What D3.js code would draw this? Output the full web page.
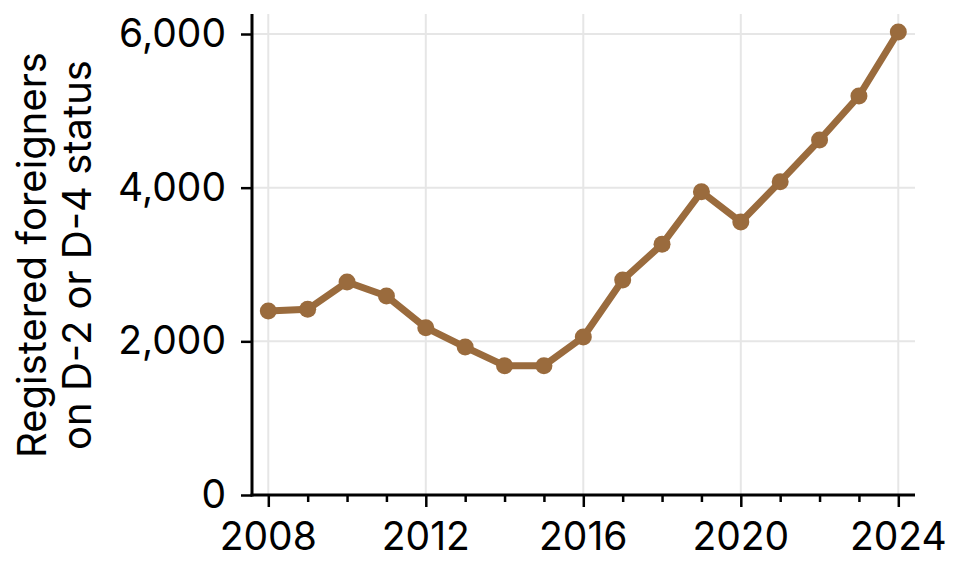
<!DOCTYPE html>
<html>
<head>
<meta charset="utf-8">
<script src="https://cdn.jsdelivr.net/npm/d3@7"></script>
<style>
  body { margin: 0; background: #fff; }
  svg { display: block; font-family: Inter, "Noto Sans", sans-serif; }
</style>
</head>
<body>
<svg id="chart" width="962" height="576"></svg>
<script>
// Registered foreigners on D-2 / D-4 status
const years = [2008, 2009, 2010, 2011, 2012, 2013, 2014, 2015, 2016,
               2017, 2018, 2019, 2020, 2021, 2022, 2023, 2024];
const counts = [2395, 2417, 2772, 2590, 2178, 1926, 1683, 1683, 2056,
                2798, 3263, 3947, 3553, 4078, 4620, 5193, 6026];
const xMajorTicks = [2008, 2012, 2016, 2020, 2024];
const yTicks = [0, 2000, 4000, 6000];
const yLabelLines = ["Registered foreigners", "on D-2 or D-4 status"];

const lineColor = "#9a6b3d";
const svg = d3.select("#chart");

// scales
const x = d3.scaleLinear().domain([2008, 2024]).range([268.3, 898.3]);
const y = d3.scaleLinear().domain([0, 6000]).range([495, 34]);
const axisLeft = 252, axisRight = 915, axisTop = 14, axisBottom = 495;

// gridlines
const grid = svg.append("g")
    .attr("stroke", "#e6e6e6")
    .attr("stroke-width", 2);

grid.selectAll("line.v")
    .data(xMajorTicks)
    .join("line")
    .attr("class", "v")
    .attr("x1", d => x(d)).attr("x2", d => x(d))
    .attr("y1", axisTop).attr("y2", axisBottom);

grid.selectAll("line.h")
    .data(yTicks.filter(d => d > 0))
    .join("line")
    .attr("class", "h")
    .attr("x1", axisLeft).attr("x2", axisRight)
    .attr("y1", d => y(d)).attr("y2", d => y(d));

// x axis: minor ticks every year, labels on the major ones
const xAxis = svg.append("g")
    .attr("transform", `translate(0,${axisBottom})`)
    .call(d3.axisBottom(x).tickValues(years).tickSize(7).tickFormat(""))
    .call(g => g.select(".domain").remove());

xAxis.selectAll(".tick line")
    .attr("stroke", "#000")
    .attr("stroke-width", 2.5)
    .attr("y2", d => xMajorTicks.includes(d) ? 12 : 7);

svg.append("g")
    .attr("transform", `translate(0,${axisBottom})`)
    .selectAll("text")
    .data(xMajorTicks)
    .join("text")
    .attr("x", d => x(d))
    .attr("y", 55)
    .attr("text-anchor", "middle")
    .attr("font-size", 39)
    .attr("fill", "#000")
    .text(d => d);

// y axis
const yAxis = svg.append("g")
    .attr("transform", `translate(${axisLeft},0)`)
    .call(d3.axisLeft(y).tickValues(yTicks).tickSize(11).tickPadding(15)
        .tickFormat(d3.format(",")))
    .call(g => g.select(".domain").remove());

yAxis.selectAll(".tick line")
    .attr("stroke", "#000")
    .attr("stroke-width", 2.5);

yAxis.selectAll(".tick text")
    .attr("font-size", 39)
    .attr("font-family", "Inter, 'Noto Sans', sans-serif")
    .attr("fill", "#000");

// spines
svg.append("line")
    .attr("x1", axisLeft).attr("x2", axisLeft)
    .attr("y1", axisTop).attr("y2", axisBottom + 1.5)
    .attr("stroke", "#000").attr("stroke-width", 3);

svg.append("line")
    .attr("x1", axisLeft - 1.5).attr("x2", axisRight)
    .attr("y1", axisBottom).attr("y2", axisBottom)
    .attr("stroke", "#000").attr("stroke-width", 3);

// y axis title, two centred lines
svg.append("text")
    .attr("transform", "translate(46,255) rotate(-90)")
    .attr("text-anchor", "middle")
    .attr("font-size", 40)
    .attr("fill", "#000")
    .selectAll("tspan")
    .data(yLabelLines)
    .join("tspan")
    .attr("x", 0)
    .attr("dy", (d, i) => i === 0 ? 0 : 45)
    .text(d => d);

// series
const data = years.map((yr, i) => ({ year: yr, value: counts[i] }));

svg.append("path")
    .datum(data)
    .attr("fill", "none")
    .attr("stroke", lineColor)
    .attr("stroke-width", 7)
    .attr("stroke-linejoin", "round")
    .attr("d", d3.line().x(d => x(d.year)).y(d => y(d.value)));

svg.append("g")
    .attr("fill", lineColor)
    .selectAll("circle")
    .data(data)
    .join("circle")
    .attr("cx", d => x(d.year))
    .attr("cy", d => y(d.value))
    .attr("r", 8.5);
</script>
</body>
</html>
